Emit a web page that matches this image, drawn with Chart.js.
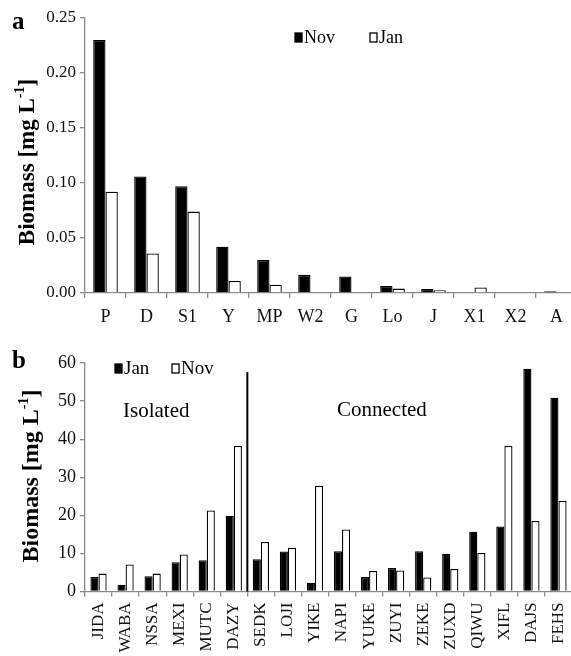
<!DOCTYPE html>
<html>
<head>
<meta charset="utf-8">
<script src="https://cdn.jsdelivr.net/npm/chart.js@4.4.1/dist/chart.umd.min.js"></script>
<style>
html,body{margin:0;padding:0;width:571px;height:656px;overflow:hidden;background:#fff;}
canvas{position:absolute;left:0;}
#chartA{top:0;}
#chartB{top:340px;}
</style>
</head>
<body>
<canvas id="chartA" width="600" height="340"></canvas>
<canvas id="chartB" width="600" height="340"></canvas>
<script>
/* ---------------- DATA ---------------- */
// panel a: biomass by taxon group, mg/L
const GROUPS_A = ["P","D","S1","Y","MP","W2","G","Lo","J","X1","X2","A"];
const NOV_A    = [0.230,0.106,0.097,0.042,0.030,0.0165,0.015,0.0064,0.0036,0,0,0.0015];
const JAN_A    = [0.092,0.036,0.074,0.011,0.0076,0,0,0.004,0.0024,0.005,0,0];
const Y_TICKS_A = [0,0.05,0.10,0.15,0.20,0.25];

// panel b: biomass by lake, mg/L
const LAKES_B = ["JIDA","WABA","NSSA","MEXI","MUTC","DAZY","SEDK","LOJI","YIKE","NAPI",
                 "YUKE","ZUYI","ZEKE","ZUXD","QIWU","XIFL","DAJS","FEHS"];
const JAN_B   = [3.8,1.8,4.0,7.7,8.2,19.9,8.5,10.5,2.3,10.6,3.8,6.2,10.6,9.9,15.7,17.1,58.5,50.9];
const NOV_B   = [4.7,7.1,4.7,9.7,21.3,38.2,13.0,11.5,27.8,16.3,5.4,5.5,3.7,5.9,10.1,38.2,18.5,23.8];
const Y_TICKS_B = [0,10,20,30,40,50,60];
const SEPARATOR_AFTER = 5;      // line between DAZY and SEDK
const SEPARATOR_TOP = 57.6;
const GROUP_NAMES = ["Isolated","Connected"];
/* -------------------------------------- */

const SERIF = "'Liberation Serif','Times New Roman','DejaVu Serif',serif";
const AXIS_GREY = '#8a8a8a';

/* extra drawing: panel letter, legend, y title, notes */
const extras = {
    id: 'extras',
    afterDatasetsDraw(chart, args, opts){
        const ctx = chart.ctx;
        ctx.save();
        ctx.fillStyle = '#000';
        ctx.textBaseline = 'alphabetic';

        // separator line
        if(opts.separator){
            const x = (chart.scales.x.getPixelForValue(opts.separator.after) +
                       chart.scales.x.getPixelForValue(opts.separator.after + 1)) / 2;
            ctx.strokeStyle = '#000';
            ctx.lineWidth = 2;
            ctx.beginPath();
            ctx.moveTo(x, chart.scales.y.getPixelForValue(0));
            ctx.lineTo(x, chart.scales.y.getPixelForValue(opts.separator.top));
            ctx.stroke();
        }

        // panel letter
        ctx.font = 'bold 25px ' + SERIF;
        ctx.textAlign = 'left';
        ctx.fillText(opts.letter.text, opts.letter.x, opts.letter.y);

        // notes
        (opts.notes || []).forEach(n => {
            ctx.font = n.size + 'px ' + SERIF;
            ctx.fillText(n.text, n.x, n.y);
        });

        // legend
        opts.legend.forEach(l => {
            const ds = chart.data.datasets[l.ds];
            ctx.fillStyle = ds.backgroundColor;
            ctx.fillRect(l.x, l.y, 7, 9);
            ctx.strokeStyle = '#000';
            ctx.lineWidth = 1.3;
            ctx.strokeRect(l.x, l.y, 7, 9);
            ctx.fillStyle = '#000';
            ctx.font = opts.legendSize + 'px ' + SERIF;
            ctx.fillText(ds.label, l.x + 9, l.y + 10);
        });

        // y axis title with superscript
        const t = opts.ytitle;
        const F = t.size;
        ctx.translate(t.x, t.y);
        ctx.rotate(-Math.PI / 2);
        ctx.textBaseline = 'middle';
        const main = 'Biomass [mg L', sup = '-1', end = ']';
        ctx.font = 'bold ' + F + 'px ' + SERIF;
        const w1 = ctx.measureText(main).width, w3 = ctx.measureText(end).width;
        ctx.font = 'bold ' + Math.round(F * 0.6) + 'px ' + SERIF;
        const w2 = ctx.measureText(sup).width;
        let x = -(w1 + w2 + w3) / 2;
        ctx.font = 'bold ' + F + 'px ' + SERIF;
        ctx.fillText(main, x, 0);
        x += w1;
        ctx.font = 'bold ' + Math.round(F * 0.6) + 'px ' + SERIF;
        ctx.fillText(sup, x, -F * 0.33);
        x += w2;
        ctx.font = 'bold ' + F + 'px ' + SERIF;
        ctx.fillText(end, x, 0);
        ctx.restore();
    }
};

function axisGrid(){
    return { drawOnChartArea: false, drawTicks: true, tickLength: 5, color: AXIS_GREY, lineWidth: 1.3 };
}

function makeChart(id, labels, sets, cfg){
    return new Chart(document.getElementById(id), {
        type: 'bar',
        data: {
            labels: labels,
            datasets: sets.map(s => ({
                label: s.label,
                data: s.data,
                backgroundColor: s.fill,
                borderColor: '#000',
                borderWidth: 1.3,
                categoryPercentage: cfg.catPct,
                barPercentage: 1.0
            }))
        },
        options: {
            responsive: false,
            animation: false,
            layout: { padding: cfg.padding },
            plugins: { legend: { display: false }, tooltip: { enabled: false }, extras: cfg.extras },
            scales: {
                x: {
                    grid: axisGrid(),
                    border: { display: true, color: AXIS_GREY, width: 1.3 },
                    ticks: Object.assign({ color: '#111', autoSkip: false,
                        font: { family: SERIF, size: cfg.xSize } }, cfg.xTicks),
                    afterFit: s => { s.height = cfg.xHeight; }
                },
                y: {
                    min: 0,
                    max: cfg.yTicks[cfg.yTicks.length - 1],
                    grid: axisGrid(),
                    border: { display: true, color: AXIS_GREY, width: 1.3 },
                    ticks: { color: '#111', padding: 4, font: { family: SERIF, size: cfg.ySize },
                             callback: cfg.yFormat },
                    afterBuildTicks: s => { s.ticks = cfg.yTicks.map(v => ({ value: v })); },
                    afterFit: s => { s.width = 85; }
                }
            }
        },
        plugins: [extras]
    });
}

makeChart('chartA', GROUPS_A, [
    { label: 'Nov', data: NOV_A, fill: '#000' },
    { label: 'Jan', data: JAN_A, fill: '#fff' }
], {
    padding: { top: 18, right: 23, left: 0, bottom: 0 },
    catPct: 0.6,
    xHeight: 47,
    xSize: 18,
    ySize: 17,
    xTicks: { padding: 8, maxRotation: 0 },
    yTicks: Y_TICKS_A,
    yFormat: v => v.toFixed(2),
    extras: {
        letter: { text: 'a', x: 12, y: 29 },
        legendSize: 18,
        legend: [ { ds: 0, x: 295, y: 33 }, { ds: 1, x: 370, y: 33 } ],
        ytitle: { x: 28, y: 162, size: 23 }
    }
});

makeChart('chartB', LAKES_B, [
    { label: 'Jan', data: JAN_B, fill: '#000' },
    { label: 'Nov', data: NOV_B, fill: '#fff' }
], {
    padding: { top: 23, right: 28, left: 0, bottom: 0 },
    catPct: 0.6,
    xHeight: 88.5,
    xSize: 17,
    ySize: 18,
    xTicks: { padding: 6, minRotation: 90, maxRotation: 90 },
    yTicks: Y_TICKS_B,
    yFormat: v => String(v),
    extras: {
        letter: { text: 'b', x: 12, y: 28 },
        legendSize: 19,
        legend: [ { ds: 0, x: 115, y: 24 }, { ds: 1, x: 172, y: 24 } ],
        notes: [ { text: GROUP_NAMES[0], x: 123, y: 77, size: 21 },
                 { text: GROUP_NAMES[1], x: 337, y: 76, size: 21 } ],
        separator: { after: SEPARATOR_AFTER, top: SEPARATOR_TOP },
        ytitle: { x: 32, y: 136, size: 24 }
    }
});
</script>
</body>
</html>
